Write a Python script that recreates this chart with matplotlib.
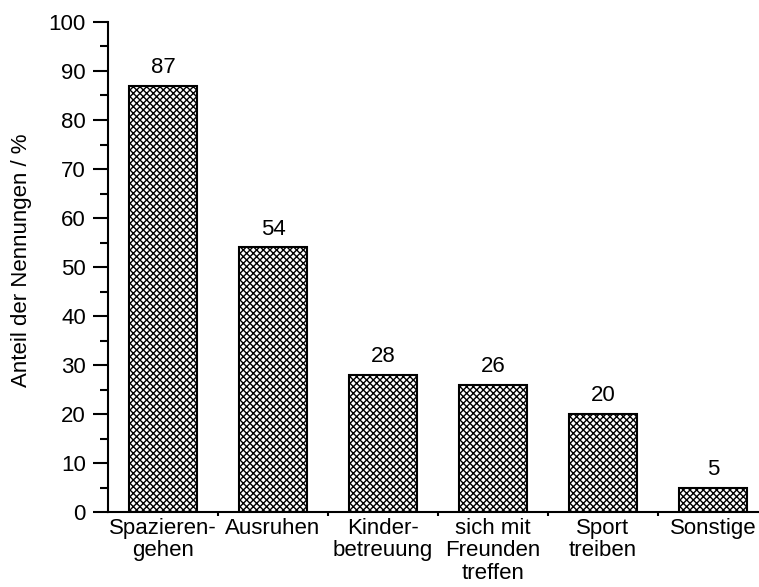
import matplotlib.pyplot as plt
import numpy as np

plt.rcParams['font.family'] = ['Liberation Sans', 'DejaVu Sans']
plt.rcParams['hatch.linewidth'] = 1.0

# Daten
kategorien = ['Spazieren-\ngehen', 'Ausruhen', 'Kinder-\nbetreuung',
              'sich mit\nFreunden\ntreffen', 'Sport\ntreiben', 'Sonstige']
anteile = [87, 54, 28, 26, 20, 5]

fig = plt.figure(figsize=(7.59, 5.87), dpi=100)
# Achse ragt rechts etwas über den Bildrand hinaus (wie im Original)
ax = fig.add_axes([108 / 759, 1 - 512 / 587, 660 / 759, 490 / 587])

x = np.arange(len(kategorien))
bars = ax.bar(x, anteile, width=0.61, color='white', edgecolor='black',
              linewidth=1.5, hatch='xxxxx')

# Werte über den Balken
for xi, v in zip(x, anteile):
    ax.text(xi, v + 1.6, str(v), ha='center', va='bottom', fontsize=16)

ax.set_xlim(-0.5, 5.5)
ax.set_ylim(0, 100)
ax.set_yticks(np.arange(0, 101, 10))
ax.set_yticks(np.arange(5, 100, 10), minor=True)
ax.set_xticks(x)
ax.set_xticklabels(kategorien, fontsize=16, linespacing=1.12)
ax.set_xticks(np.arange(0.5, 5.5, 1), minor=True)

ax.tick_params(axis='y', which='major', length=11, width=1.5, labelsize=16, pad=5)
ax.tick_params(axis='y', which='minor', length=6, width=1.5)
ax.tick_params(axis='x', which='major', length=0, pad=4)
ax.tick_params(axis='x', which='minor', length=3, width=1.5)

ax.spines['top'].set_visible(False)
ax.spines['right'].set_visible(False)
ax.spines['left'].set_linewidth(1.5)
ax.spines['bottom'].set_linewidth(1.5)

ax.set_ylabel('Anteil der Nennungen / %', fontsize=16)
ax.yaxis.set_label_coords(-76 / 660, 0.514)

fig.savefig('out.png', dpi=100)
